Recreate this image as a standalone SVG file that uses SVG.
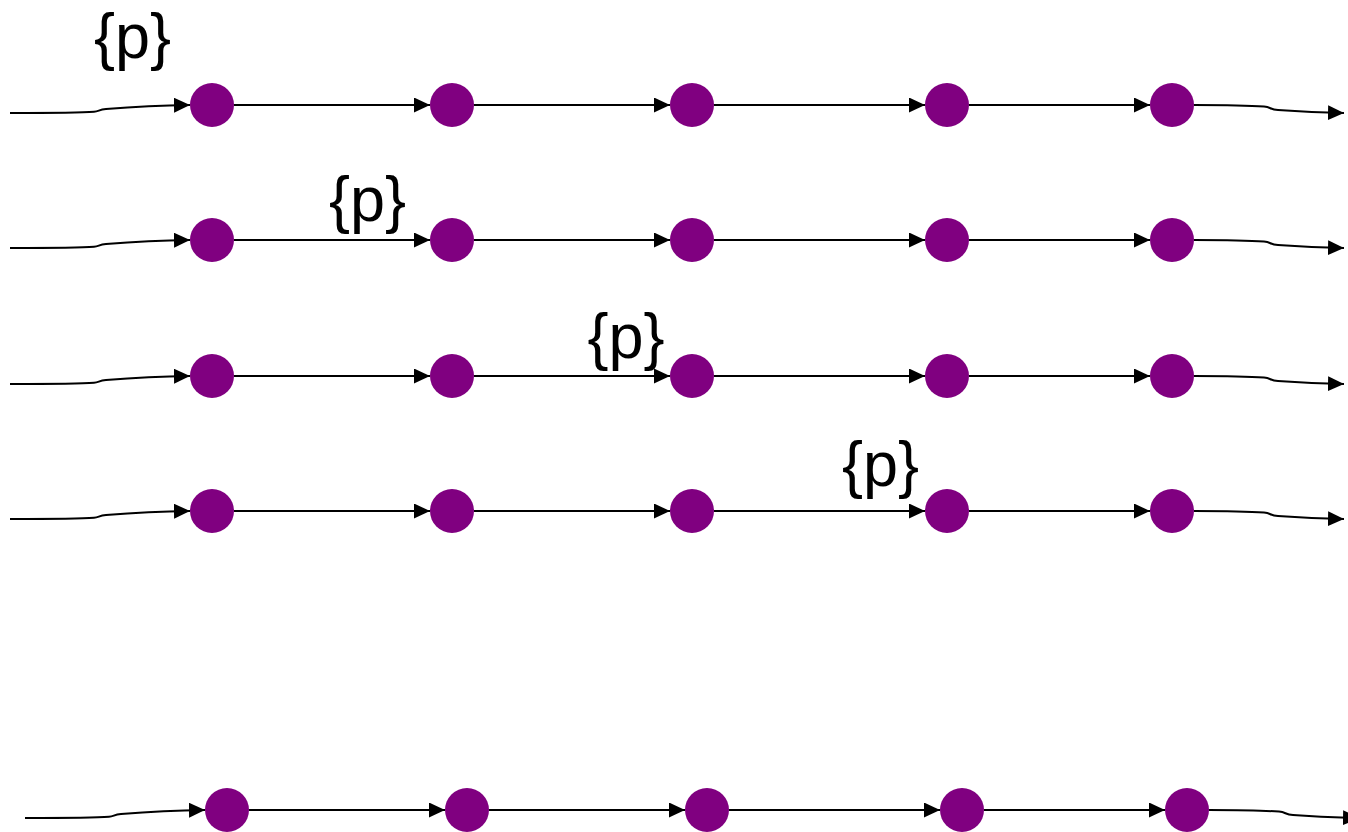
<svg xmlns="http://www.w3.org/2000/svg" width="1348" height="832" viewBox="0 0 1348 832">
<style>
.n{fill:#800080}
.c{fill:none;stroke:#000;stroke-width:2;marker-end:url(#ah)}
.t{font-family:"Liberation Sans","Noto Sans",sans-serif;font-size:63px;fill:#000;text-anchor:middle}
</style>
<defs>
<marker id="ah" markerUnits="userSpaceOnUse" markerWidth="17" markerHeight="16" refX="16" refY="7.5" orient="auto" viewBox="0 0 17 16">
<path d="M0,0 L16,7.5 L0,15 z" fill="#000"/>
</marker>
</defs>
<rect width="1348" height="832" fill="#fff"/>
<g id="connectors">
<path class="c" d="M10,113 C50,113 85,112.5 94,111.8 C99,111.3 99,109.6 106,109 C130,107 160,105.3 190,105"/>
<path class="c" d="M234,105 L430,105"/>
<path class="c" d="M474,105 L670,105"/>
<path class="c" d="M714,105 L925,105"/>
<path class="c" d="M969,105 L1150,105"/>
<path class="c" d="M1194,105 C1220,105 1250,105.5 1264,106.6 C1271,107.2 1270,109.4 1278,110 C1300,111.5 1320,112.5 1344,113"/>

<path class="c" d="M10,248 C50,248 85,247.5 94,246.8 C99,246.3 99,244.6 106,244 C130,242 160,240.3 190,240"/>
<path class="c" d="M234,240 L430,240"/>
<path class="c" d="M474,240 L670,240"/>
<path class="c" d="M714,240 L925,240"/>
<path class="c" d="M969,240 L1150,240"/>
<path class="c" d="M1194,240 C1220,240 1250,240.5 1264,241.6 C1271,242.2 1270,244.4 1278,245 C1300,246.5 1320,247.5 1344,248"/>

<path class="c" d="M10,384 C50,384 85,383.5 94,382.8 C99,382.3 99,380.6 106,380 C130,378 160,376.3 190,376"/>
<path class="c" d="M234,376 L430,376"/>
<path class="c" d="M474,376 L670,376"/>
<path class="c" d="M714,376 L925,376"/>
<path class="c" d="M969,376 L1150,376"/>
<path class="c" d="M1194,376 C1220,376 1250,376.5 1264,377.6 C1271,378.2 1270,380.4 1278,381 C1300,382.5 1320,383.5 1344,384"/>

<path class="c" d="M10,519 C50,519 85,518.5 94,517.8 C99,517.3 99,515.6 106,515 C130,513 160,511.3 190,511"/>
<path class="c" d="M234,511 L430,511"/>
<path class="c" d="M474,511 L670,511"/>
<path class="c" d="M714,511 L925,511"/>
<path class="c" d="M969,511 L1150,511"/>
<path class="c" d="M1194,511 C1220,511 1250,511.5 1264,512.6 C1271,513.2 1270,515.4 1278,516 C1300,517.5 1320,518.5 1344,519"/>

<path class="c" d="M25,818 C65,818 100,817.5 109,816.8 C114,816.3 114,814.6 121,814 C145,812 175,810.3 205,810"/>
<path class="c" d="M249,810 L445,810"/>
<path class="c" d="M489,810 L685,810"/>
<path class="c" d="M729,810 L940,810"/>
<path class="c" d="M984,810 L1165,810"/>
<path class="c" d="M1209,810 C1235,810 1265,810.5 1279,811.6 C1286,812.2 1285,814.4 1293,815 C1315,816.5 1335,817.5 1359,818"/>
</g>
<g id="row1">
<circle class="n" cx="212" cy="105" r="22"/>
<circle class="n" cx="452" cy="105" r="22"/>
<circle class="n" cx="692" cy="105" r="22"/>
<circle class="n" cx="947" cy="105" r="22"/>
<circle class="n" cx="1172" cy="105" r="22"/>
</g>
<g id="row2">
<circle class="n" cx="212" cy="240" r="22"/>
<circle class="n" cx="452" cy="240" r="22"/>
<circle class="n" cx="692" cy="240" r="22"/>
<circle class="n" cx="947" cy="240" r="22"/>
<circle class="n" cx="1172" cy="240" r="22"/>
</g>
<g id="row3">
<circle class="n" cx="212" cy="376" r="22"/>
<circle class="n" cx="452" cy="376" r="22"/>
<circle class="n" cx="692" cy="376" r="22"/>
<circle class="n" cx="947" cy="376" r="22"/>
<circle class="n" cx="1172" cy="376" r="22"/>
</g>
<g id="row4">
<circle class="n" cx="212" cy="511" r="22"/>
<circle class="n" cx="452" cy="511" r="22"/>
<circle class="n" cx="692" cy="511" r="22"/>
<circle class="n" cx="947" cy="511" r="22"/>
<circle class="n" cx="1172" cy="511" r="22"/>
</g>
<g id="row5">
<circle class="n" cx="227" cy="810" r="22"/>
<circle class="n" cx="467" cy="810" r="22"/>
<circle class="n" cx="707" cy="810" r="22"/>
<circle class="n" cx="962" cy="810" r="22"/>
<circle class="n" cx="1187" cy="810" r="22"/>
</g>
<g id="labels">
<text class="t" x="132.5" y="58">{p}</text>
<text class="t" x="367.5" y="221">{p}</text>
<text class="t" x="626" y="358">{p}</text>
<text class="t" x="880.5" y="486">{p}</text>
</g>
</svg>
